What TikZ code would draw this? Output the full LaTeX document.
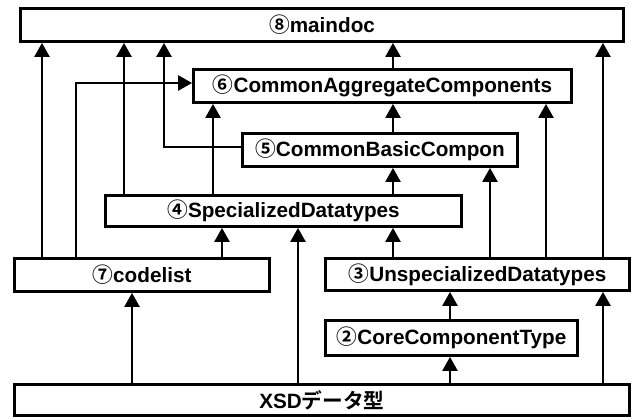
\documentclass[tikz,border=0pt]{standalone}
\usepackage{fontspec}
\setmainfont{Liberation Sans}
\newfontfamily\cjk{Noto Sans CJK JP}[BoldFont={Noto Sans CJK JP Bold}]
\usetikzlibrary{arrows.meta}
\newcommand{\cn}[1]{{\cjk\bfseries #1}}
\tikzset{
  box/.style={draw, line width=2.8pt, rectangle, inner sep=0pt, fill=white,
    font=\fontsize{20.7}{24}\selectfont\bfseries},
  arr/.style={line width=2.4pt, -{Triangle[width=15pt,length=14pt]}},
}
\begin{document}
\begin{tikzpicture}[x=1pt, y=-1pt]
\useasboundingbox (0,0) rectangle (635,419);

% modules
\node[box, minimum width=603pt, minimum height=33pt] (main) at (322,25) {\cn{⑧}maindoc};
\node[box, minimum width=378pt, minimum height=33pt] (n6) at (382.5,86) {\cn{⑥}CommonAggregateComponents};
\node[box, minimum width=275pt, minimum height=33pt] (n5) at (380,150) {\cn{⑤}CommonBasicCompon};
\node[box, minimum width=356pt, minimum height=31pt] (n4) at (283.5,211) {\cn{④}SpecializedDatatypes};
\node[box, minimum width=255pt, minimum height=33pt] (n7) at (142,275) {\cn{⑦}codelist};
\node[box, minimum width=304pt, minimum height=32pt] (n3) at (477.5,274.5) {\cn{③}UnspecializedDatatypes};
\node[box, minimum width=252pt, minimum height=35pt] (n2) at (451.5,338) {\cn{②}CoreComponentType};
\node[box, minimum width=615pt, minimum height=31pt] (xsd) at (322,400) {XSD\cn{データ型}};

% dependencies
\draw[arr] (n7.north -| 42,0) -- (main.south -| 42,0);
\draw[arr] (n7.north -| 76,0) |- ([yshift=3pt]n6.west);
\draw[arr] (n4.north -| 124,0) -- (main.south -| 124,0);
\draw[arr] ([yshift=3pt]n5.west) -| (main.south -| 164,0);
\draw[arr] (n4.north -| 213,0) -- (n6.south -| 213,0);
\draw[arr] (n6.north -| 393,0) -- (main.south -| 393,0);
\draw[arr] (n5.north -| 393,0) -- (n6.south -| 393,0);
\draw[arr] (n4.north -| 393,0) -- (n5.south -| 393,0);
\draw[arr] (n3.north -| 393,0) -- (n4.south -| 393,0);
\draw[arr] (n3.north -| 490,0) -- (n5.south -| 490,0);
\draw[arr] (n3.north -| 546,0) -- (n6.south -| 546,0);
\draw[arr] (n3.north -| 603,0) -- (main.south -| 603,0);
\draw[arr] (n7.north -| 222,0) -- (n4.south -| 222,0);
\draw[arr] (xsd.north -| 132,0) -- (n7.south -| 132,0);
\draw[arr] (xsd.north -| 298,0) -- (n4.south -| 298,0);
\draw[arr] (xsd.north -| 450,0) -- (n2.south -| 450,0);
\draw[arr] (n2.north -| 450,0) -- (n3.south -| 450,0);
\draw[arr] (xsd.north -| 603,0) -- (n3.south -| 603,0);
\end{tikzpicture}
\end{document}
